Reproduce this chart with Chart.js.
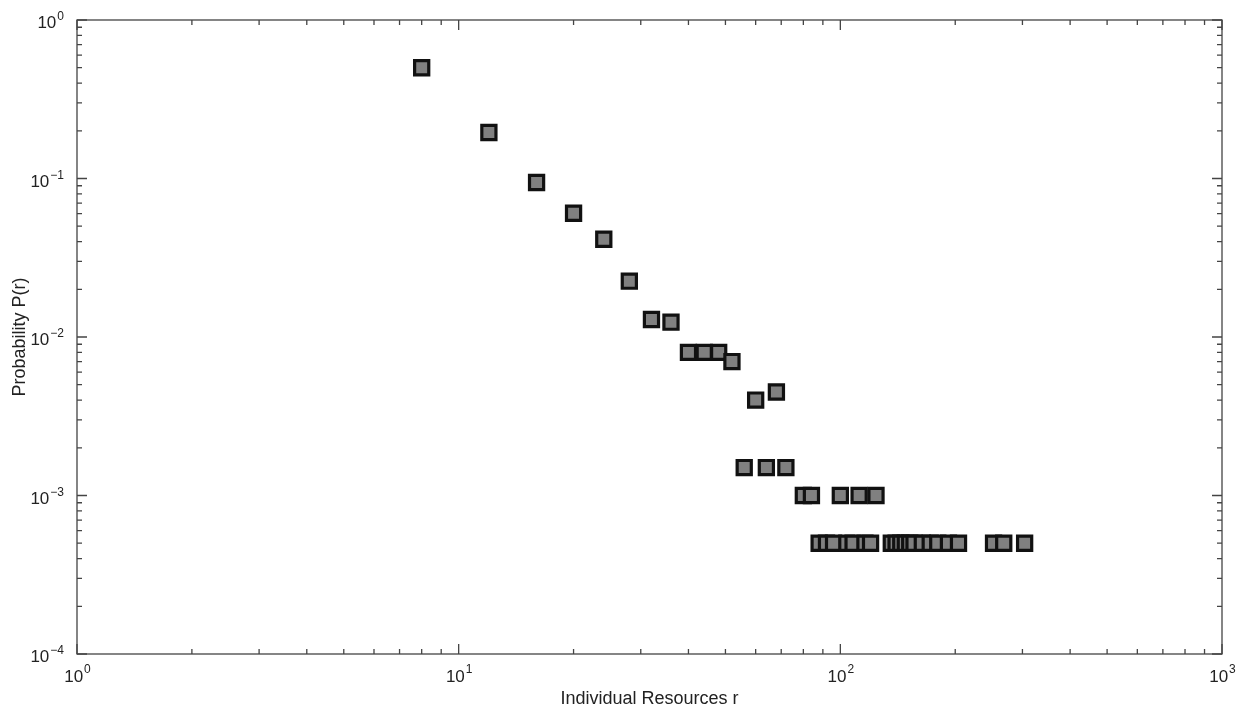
<!DOCTYPE html>
<html lang="en">
<head>
  <meta charset="UTF-8">
  <title>Probability P(r) vs Individual Resources r</title>
  <script src="https://cdn.jsdelivr.net/npm/chart.js"></script>
  <style>
    html, body { margin: 0; padding: 0; background: #fff; }
    .chart-box { position: relative; width: 1246px; height: 711px; }
  </style>
</head>
<body>
  <div class="chart-box">
    <canvas id="plot" width="1246" height="711"></canvas>
  </div>
  <script>
    // resources r and their probability P(r)
    const resources = [8, 12, 16, 20, 24, 28, 32, 36, 40, 44, 48, 52, 60, 68,
                       56, 64, 72, 80, 84, 100, 112, 124,
                       88, 92, 96, 104, 108, 116, 120,
                       136, 140, 144, 148, 152, 156, 164, 172, 180, 192, 204,
                       252, 268, 304];
    const probability = [0.5, 0.195, 0.0944, 0.0604, 0.0414, 0.0225, 0.0129, 0.0124, 0.008, 0.008, 0.008, 0.007, 0.004, 0.0045,
                         0.0015, 0.0015, 0.0015, 0.001, 0.001, 0.001, 0.001, 0.001,
                         0.0005, 0.0005, 0.0005, 0.0005, 0.0005, 0.0005, 0.0005,
                         0.0005, 0.0005, 0.0005, 0.0005, 0.0005, 0.0005, 0.0005, 0.0005, 0.0005, 0.0005, 0.0005,
                         0.0005, 0.0005, 0.0005];

    // axis decades and their exponent labels
    const xDecades = [1, 10, 100, 1000];
    const xExponents = ['0', '1', '2', '3'];
    const yDecades = [1, 0.1, 0.01, 0.001, 0.0001];
    const yExponents = ['0', '\u22121', '\u22122', '\u22123', '\u22124'];

    const xTitle = 'Individual Resources r';
    const yTitle = 'Probability P(r)';

    const points = resources.map((r, i) => ({ x: r, y: probability[i] }));

    const FONT = '"Liberation Sans", Arial, sans-serif';

    // MATLAB style frame: box, inward ticks on all sides, 10^n labels
    const framePlugin = {
      id: 'frame',
      afterDraw(chart) {
        const ctx = chart.ctx;
        const a = chart.chartArea;
        const xs = chart.scales.x;
        const ys = chart.scales.y;
        ctx.save();
        ctx.strokeStyle = '#444';
        ctx.lineWidth = 1.3;
        ctx.strokeRect(a.left, a.top, a.right - a.left, a.bottom - a.top);

        ctx.beginPath();
        xDecades.forEach((d, i) => {
          const px = xs.getPixelForValue(d);
          ctx.moveTo(px, a.bottom); ctx.lineTo(px, a.bottom - 10);
          ctx.moveTo(px, a.top); ctx.lineTo(px, a.top + 10);
          if (i < xDecades.length - 1) {
            for (let m = 2; m <= 9; m++) {
              const mx = xs.getPixelForValue(d * m);
              ctx.moveTo(mx, a.bottom); ctx.lineTo(mx, a.bottom - 5);
              ctx.moveTo(mx, a.top); ctx.lineTo(mx, a.top + 5);
            }
          }
        });
        yDecades.forEach((d, i) => {
          const py = ys.getPixelForValue(d);
          ctx.moveTo(a.left, py); ctx.lineTo(a.left + 10, py);
          ctx.moveTo(a.right, py); ctx.lineTo(a.right - 10, py);
          if (i < yDecades.length - 1) {
            for (let m = 2; m <= 9; m++) {
              const my = ys.getPixelForValue(d / 10 * m);
              ctx.moveTo(a.left, my); ctx.lineTo(a.left + 5, my);
              ctx.moveTo(a.right, my); ctx.lineTo(a.right - 5, my);
            }
          }
        });
        ctx.stroke();

        ctx.fillStyle = '#222';
        ctx.textBaseline = 'alphabetic';
        ctx.textAlign = 'left';
        const baseFont = '17px ' + FONT;
        const expFont = '12px ' + FONT;

        xDecades.forEach((d, i) => {
          const px = xs.getPixelForValue(d);
          ctx.font = baseFont;
          const w1 = ctx.measureText('10').width;
          ctx.font = expFont;
          const w2 = ctx.measureText(xExponents[i]).width;
          const x0 = px - (w1 + w2) / 2;
          ctx.font = baseFont;
          ctx.fillText('10', x0, a.bottom + 28);
          ctx.font = expFont;
          ctx.fillText(xExponents[i], x0 + w1 + 1, a.bottom + 19);
        });

        yDecades.forEach((d, i) => {
          const py = ys.getPixelForValue(d);
          ctx.font = expFont;
          const w2 = ctx.measureText(yExponents[i]).width;
          ctx.font = baseFont;
          const w1 = ctx.measureText('10').width;
          const right = a.left - 13;
          const x0 = right - w2 - 1 - w1;
          ctx.fillText('10', x0, py + 8);
          ctx.font = expFont;
          ctx.fillText(yExponents[i], x0 + w1 + 1, py);
        });

        ctx.font = '18px ' + FONT;
        ctx.textAlign = 'center';
        ctx.fillText(xTitle, (a.left + a.right) / 2, a.bottom + 50);
        ctx.translate(25, (a.top + a.bottom) / 2);
        ctx.rotate(-Math.PI / 2);
        ctx.fillText(yTitle, 0, 0);
        ctx.restore();
      }
    };

    new Chart(document.getElementById('plot'), {
      type: 'scatter',
      data: {
        datasets: [{
          data: points,
          pointStyle: 'rect',
          pointRadius: 10,
          pointHoverRadius: 10,
          borderWidth: 3.2,
          pointBorderWidth: 3.2,
          borderColor: '#111',
          backgroundColor: '#808080'
        }]
      },
      options: {
        responsive: false,
        animation: false,
        events: [],
        layout: { padding: { left: 77, top: 20, right: 24, bottom: 57 } },
        plugins: { legend: { display: false }, tooltip: { enabled: false } },
        scales: {
          x: { type: 'logarithmic', min: 1, max: 1000, display: false },
          y: { type: 'logarithmic', min: 0.0001, max: 1, display: false }
        }
      },
      plugins: [framePlugin]
    });
  </script>
</body>
</html>
